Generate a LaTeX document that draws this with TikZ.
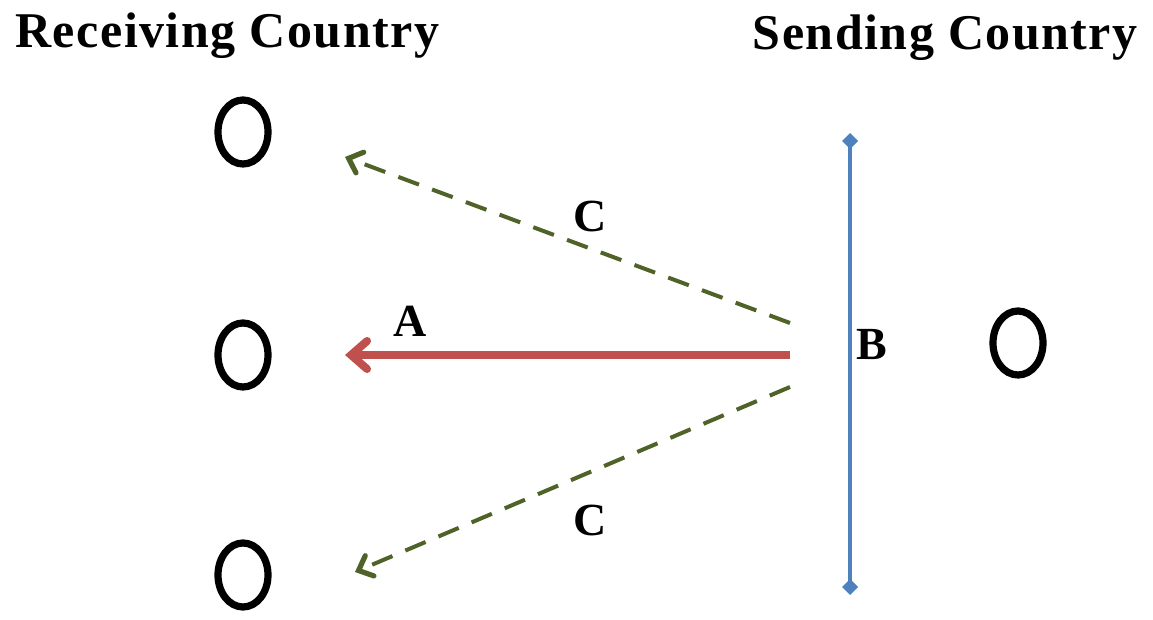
\documentclass[tikz,border=0pt]{standalone}
\usepackage{fontspec}
\setmainfont{Liberation Serif}
\newfontfamily\headfont[LetterSpace=3]{Liberation Serif}
\usetikzlibrary{arrows.meta,shapes.geometric}
\definecolor{flowred}{RGB}{192,80,77}
\definecolor{flowgreen}{RGB}{79,98,40}
\definecolor{borderblue}{RGB}{79,129,189}

\begin{document}
\begin{tikzpicture}[x=0.5pt,y=-0.5pt,line cap=butt,
  lbl/.style={font=\fontsize{23}{27}\selectfont\bfseries,inner sep=0pt},
  head/.style={font=\headfont\fontsize{25}{30}\selectfont\bfseries,inner sep=0pt},
  person/.style={ellipse,draw=black,line width=3.6pt,minimum width=25pt,minimum height=32pt,inner sep=0pt},
  flowc/.style={flowgreen,line width=2pt,dash pattern=on 11pt off 7pt,-{Straight Barb[length=6pt,width=11pt,line width=2.6pt,line cap=round]}}]
\useasboundingbox (0,0) rectangle (1153,620);
% country headings
\node[head,anchor=west] (recv) at (15,36) {Receiving Country};
\node[head,anchor=east] (send) at (1138,38) {Sending Country};
% people
\node[person] (r1) at (243,132) {};
\node[person] (r2) at (243,355) {};
\node[person] (r3) at (243,575) {};
\node[person] (s1) at (1018,343) {};
% border
\coordinate (btop) at (850,133);
\coordinate (bbot) at (850,595);
\draw[borderblue,line width=2pt,{Diamond[length=8pt,width=8pt]}-{Diamond[length=8pt,width=8pt]}] (btop) -- (bbot);
% flows
\coordinate (aout) at (790,355);
\coordinate (ain) at (345,355);
\coordinate (c1out) at (790,323);
\coordinate (c1in) at (345,157);
\coordinate (c2out) at (790,387);
\coordinate (c2in) at (355,572);
\draw[flowred,line width=4pt,-{Straight Barb[length=8pt,width=14pt,line cap=round]}] (aout) -- (ain);
\draw[flowc] (c1out) -- (c1in);
\draw[flowc] (c2out) -- (c2in);
% labels
\node[lbl] (la) at (410,321) {A};
\node[lbl] (lb) at (872,345) {B};
\node[lbl] (lc1) at (590,216) {C};
\node[lbl] (lc2) at (590,520) {C};
\end{tikzpicture}
\end{document}
